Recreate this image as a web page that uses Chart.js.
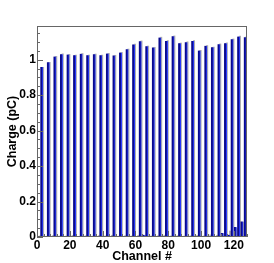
<!DOCTYPE html>
<html>
<head>
<meta charset="utf-8">
<script src="https://cdn.jsdelivr.net/npm/chart.js@4.4.1/dist/chart.umd.min.js"></script>
<style>
  html, body { margin: 0; padding: 0; background: #fff; }
  #wrap { width: 274px; height: 263px; }
</style>
</head>
<body>
<div id="wrap"><canvas id="chart" width="274" height="263"></canvas></div>
<script>
(function () {
  "use strict";

  /* ---- data ------------------------------------------------------- */
  var mainChannels = [2, 6, 10, 14, 18, 22, 26, 30, 34, 38, 42, 46, 50, 54, 58, 62,
                      66, 70, 74, 78, 82, 86, 90, 94, 98, 102, 106, 110, 114, 118, 122, 126];
  var mainCharge = [0.959, 0.986, 1.018, 1.031, 1.029, 1.025, 1.033, 1.025, 1.031, 1.025, 1.035, 1.024,
                    1.040, 1.059, 1.086, 1.104, 1.076, 1.069, 1.125, 1.106, 1.132, 1.093, 1.099, 1.106,
                    1.052, 1.078, 1.070, 1.087, 1.093, 1.115, 1.131, 1.127];
  var mainShadow = [0.957, 0.985, 1.019, 1.033, 1.030, 1.026, 1.035, 1.026, 1.032, 1.026, 1.036, 1.025,
                    1.041, 1.060, 1.088, 1.106, 1.077, 1.070, 1.127, 1.108, 1.134, 1.094, 1.101, 1.108,
                    1.053, 1.080, 1.071, 1.089, 1.095, 1.117, 1.133, 1.129];
  var crossChannels = [0, 4, 8, 12, 16, 20, 24, 28, 32, 36, 40, 44, 48, 52, 56, 60,
                       64, 68, 72, 76, 80, 84, 88, 92, 96, 100, 104, 108, 112, 116, 120, 124];
  var crossCharge = [0, 0, 0, 0, 0, 0, 0, 0, 0, 0, 0, 0, 0, 0, 0, 0,
                     0.012, 0, 0, 0, 0, 0, 0.004, 0.003, 0, 0, 0, 0.006, 0.022, 0.012, 0.056, 0.088];
  var crossShadow = [0.006, 0.004, 0.008, 0.006, 0.005, 0.009, 0.004, 0.007, 0.005, 0.008, 0.006, 0.010,
                     0.005, 0.007, 0.006, 0.009, 0.008, 0.006, 0.007, 0.010, 0.006, 0.008, 0.005, 0.007,
                     0.009, 0.006, 0.012, 0.010, 0.018, 0.034, 0.050, 0.085];
  var xTicks = [0, 20, 40, 60, 80, 100, 120];
  var yTicks = [0, 0.2, 0.4, 0.6, 0.8, 1];

  var NAVY = "#0a0a8e";
  var BLUE = "#2a3cff";
  var GREY = "#b0b0b0";
  var FRAME = "#666666";
  var FONT = "'Liberation Sans', Arial, Helvetica, sans-serif";

  var points = function (chs, vals, shift) {
    var out = [];
    for (var i = 0; i < chs.length; i++) {
      if (vals[i] > 0) out.push({ x: chs[i] + shift, y: vals[i] });
    }
    return out;
  };

  /* ---- ROOT-like frame and inside ticks ---------------------------- */
  var rootFrame = {
    id: "rootFrame",
    afterDatasetsDraw: function (chart) {
      var ctx = chart.ctx, a = chart.chartArea;
      var sx = chart.scales.x, sy = chart.scales.y;
      ctx.save();
      ctx.strokeStyle = FRAME;
      ctx.lineWidth = 1;
      ctx.beginPath();
      var v, p;
      for (v = 0; v <= sy.max + 1e-9; v += 0.05) {
        p = Math.round(sy.getPixelForValue(v)) + 0.5;
        var major = Math.abs(v / 0.2 - Math.round(v / 0.2)) < 1e-6;
        ctx.moveTo(a.left, p);
        ctx.lineTo(a.left + (major ? 6 : 3), p);
      }
      for (v = 0; v <= sx.max; v += 4) {
        p = Math.round(sx.getPixelForValue(v)) + 0.5;
        ctx.moveTo(p, a.bottom);
        ctx.lineTo(p, a.bottom - (v % 20 === 0 ? 6 : 3));
      }
      ctx.stroke();
      ctx.strokeRect(a.left + 0.5, a.top + 0.5, a.right - a.left - 1, a.bottom - a.top - 1);
      ctx.restore();
    }
  };

  var tickFont = { family: FONT, weight: "bold", size: 12 };
  var titleFont = { family: FONT, weight: "bold", size: 12.5, lineHeight: 1 };
  var plain = function (v) { return String(Math.round(v * 10) / 10); };

  new Chart(document.getElementById("chart"), {
    type: "bar",
    data: {
      datasets: [
        {
          label: "Charge",
          data: points(mainChannels, mainCharge, 0.8).concat(points(crossChannels, crossCharge, 0.8)),
          backgroundColor: NAVY,
          borderColor: BLUE,
          borderWidth: { left: 0, top: 0, bottom: 0, right: 1 },
          borderSkipped: false,
          barThickness: 2.6,
          grouped: false
        },
        {
          label: "Shadow",
          data: points(mainChannels, mainShadow, 1.7).concat(points(crossChannels, crossShadow, 1.7)),
          backgroundColor: GREY,
          borderWidth: 0,
          barThickness: 1.4,
          grouped: false
        }
      ]
    },
    options: {
      responsive: false,
      animation: false,
      devicePixelRatio: 1,
      layout: { padding: { left: 0, right: 27, top: 26, bottom: 0 } },
      plugins: { legend: { display: false }, tooltip: { enabled: false } },
      scales: {
        x: {
          type: "linear",
          min: 0,
          max: 128,
          offset: false,
          grid: { display: false, drawTicks: false, offset: false },
          border: { display: false },
          afterBuildTicks: function (s) { s.ticks = xTicks.map(function (v) { return { value: v }; }); },
          afterFit: function (s) { s.height = 26; },
          ticks: { padding: 1, color: "#000", font: tickFont, maxRotation: 0, autoSkip: false, callback: plain },
          title: { display: true, text: "Channel #", color: "#000", font: titleFont, padding: { top: 0, bottom: 0 } }
        },
        y: {
          type: "linear",
          min: 0,
          max: 1.19,
          grid: { display: false, drawTicks: false },
          border: { display: false },
          afterBuildTicks: function (s) { s.ticks = yTicks.map(function (v) { return { value: v }; }); },
          afterFit: function (s) { s.width = 37; },
          ticks: { padding: 1, color: "#000", font: tickFont, autoSkip: false, callback: plain },
          title: { display: true, text: "Charge (pC)", color: "#000", font: titleFont, padding: { top: 6, bottom: 0 } }
        }
      }
    },
    plugins: [rootFrame]
  });
})();
</script>
</body>
</html>
